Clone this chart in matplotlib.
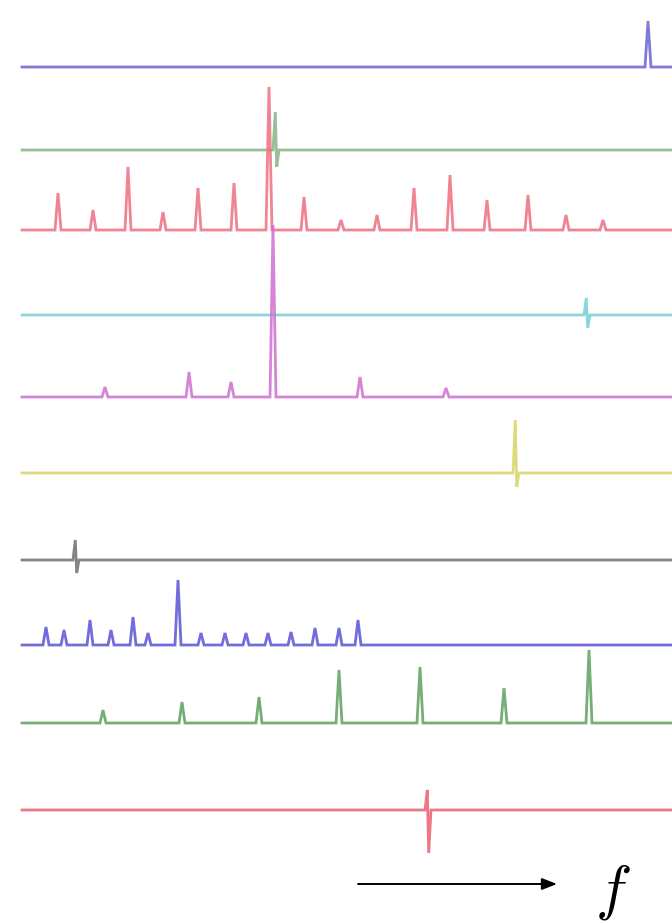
import numpy as np
import matplotlib
matplotlib.use('Agg')
import matplotlib.pyplot as plt

plt.rcParams['mathtext.fontset'] = 'cm'

# frequency axis in picture units, traces stacked from top to bottom
f_start, f_end = 22, 672

colors    = ['#6a62d2', '#86b486', '#ee6f80', '#74cfd6', '#cf6fd0',
             '#d8d464', '#6e6e6e', '#5a52d6', '#5f9f5f', '#e8606f']
baselines = [67, 150, 230, 315, 397, 473, 560, 645, 723, 810]

peak_f = [
    [648],
    [276],
    [58, 93, 128, 163, 198, 234, 269, 304, 341, 377, 414, 450, 487, 528, 566, 603],
    [587],
    [105, 189, 231, 273, 360, 446],
    [516],
    [76],
    [46, 64, 90, 111, 133, 148, 178, 201, 225, 246, 268, 291, 315, 339, 358],
    [103, 182, 259, 339, 420, 504, 589],
    [428],
]
peak_up = [
    [46],
    [38],
    [37, 20, 63, 18, 42, 47, 143, 33, 10, 15, 42, 55, 30, 35, 15, 10],
    [17],
    [10, 25, 15, 172, 20, 9],
    [53],
    [20],
    [18, 15, 25, 15, 28, 12, 65, 12, 12, 12, 12, 13, 17, 17, 25],
    [13, 21, 26, 53, 56, 35, 73],
    [20],
]
peak_down = [
    [0],
    [17],
    [0] * 16,
    [13],
    [0] * 6,
    [14],
    [13],
    [0] * 15,
    [0] * 7,
    [43],
]

fig = plt.figure(figsize=(6.72, 9.23), dpi=100)
ax = fig.add_axes([0, 0, 1, 1])
ax.set_xlim(0, 672)
ax.set_ylim(923, 0)
ax.axis('off')

hw = 3.0
for c, base, fs, ups, downs in zip(colors, baselines, peak_f, peak_up, peak_down):
    xs = [f_start]
    ys = [0.0]
    for f0, u, d in zip(fs, ups, downs):
        if d > 0:
            xs += [f0 - hw, f0 - 0.7, f0 + 0.7, f0 + hw]
            ys += [0.0, u, -d, 0.0]
        else:
            xs += [f0 - hw, f0, f0 + hw]
            ys += [0.0, u, 0.0]
    xs.append(f_end)
    ys.append(0.0)
    ax.plot(xs, base - np.array(ys), color=c, lw=2.0, alpha=0.85,
            solid_joinstyle='miter')

# frequency arrow
ax.annotate('', xy=(557, 884), xytext=(358, 884),
            arrowprops=dict(arrowstyle='-|>,head_length=0.9,head_width=0.35',
                            color='black', lw=1.4, shrinkA=0, shrinkB=0))
ax.text(613, 892, '$f$', fontsize=44, ha='center', va='center', color='black')

fig.savefig('out.png', dpi=100)
